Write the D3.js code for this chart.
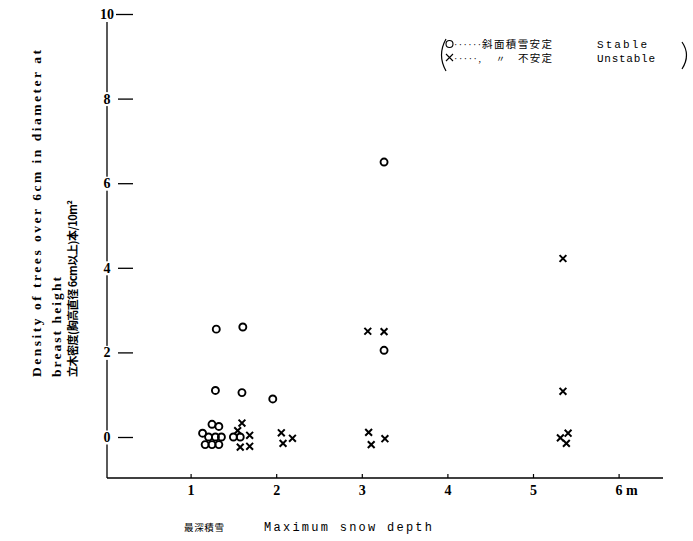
<!DOCTYPE html>
<html>
<head>
<meta charset="utf-8">
<script src="https://cdn.jsdelivr.net/npm/d3@7"></script>
<style>
  body { margin: 0; background: #fff; }
  svg { display: block; }
  .tick text { font-family: "Liberation Serif", "DejaVu Serif", serif; font-weight: bold; }
</style>
</head>
<body>
<svg id="chart" width="693" height="541"></svg>
<script>
// snow depth (m) / tree density (per 10 m2)
const stableDepth   = [1.30, 1.61, 1.29, 1.60, 1.96, 3.26, 3.26, 1.25, 1.33, 1.14, 1.21, 1.29, 1.36, 1.17, 1.25, 1.33, 1.50, 1.58];
const stableDensity = [2.55, 2.60, 1.10, 1.05, 0.90, 6.50, 2.05, 0.30, 0.25, 0.09, 0.00, 0.00, 0.00, -0.18, -0.18, -0.18, 0.00, 0.00];

const unstableDepth   = [1.60, 1.55, 1.69, 1.58, 1.69, 2.06, 2.19, 2.08, 3.07, 3.26, 3.08, 3.27, 3.11, 5.35, 5.35, 5.32, 5.41, 5.39];
const unstableDensity = [0.33, 0.15, 0.04, -0.24, -0.22, 0.10, -0.03, -0.15, 2.50, 2.49, 0.11, -0.04, -0.18, 4.22, 1.08, -0.02, 0.09, -0.15];

const xTicks = [1, 2, 3, 4, 5, 6];
const xTickLabels = ['1', '2', '3', '4', '5', '6 m'];
const yTicks = [0, 2, 4, 6, 8, 10];

const svg = d3.select('#chart');

const x = d3.scaleLinear().domain([0, 6]).range([105, 618.6]);
const y = d3.scaleLinear().domain([0, 10]).range([437, 14]);

const axisX = 107, axisY = 478;

// axis lines
svg.append('line')
    .attr('x1', axisX).attr('x2', axisX)
    .attr('y1', 22).attr('y2', axisY)
    .attr('stroke', '#000').attr('stroke-width', 1.3);
svg.append('line')
    .attr('x1', axisX).attr('x2', 663)
    .attr('y1', axisY).attr('y2', axisY)
    .attr('stroke', '#000').attr('stroke-width', 1.5);

// x axis: small upward ticks, labels below
const gx = svg.append('g')
    .attr('transform', 'translate(0,' + axisY + ')')
    .call(d3.axisBottom(x).tickValues(xTicks)
        .tickFormat((d, i) => xTickLabels[i])
        .tickSizeInner(-4).tickSizeOuter(0).tickPadding(7));
gx.select('.domain').remove();
gx.selectAll('.tick line').attr('stroke-width', 1.2);
gx.selectAll('.tick text').attr('font-size', 14).attr('fill', '#000')
    .attr('text-anchor', 'start').attr('dx', -3.5);

// y axis: labels sit on the axis line, ticks are short dashes to its right
const gy = svg.append('g')
    .attr('transform', 'translate(118,0)')
    .call(d3.axisRight(y).tickValues(yTicks)
        .tickSizeInner(15).tickSizeOuter(0).tickPadding(0));
gy.select('.domain').remove();
gy.selectAll('.tick line').attr('stroke-width', 1.3);
gy.selectAll('.tick').each(function (d) {
    const t = d3.select(this);
    const w = d === 10 ? 17 : 9;
    t.insert('rect', 'text')
        .attr('x', -11 - w / 2).attr('y', -7)
        .attr('width', w).attr('height', 14)
        .attr('fill', '#fff');
});
gy.selectAll('.tick text')
    .attr('x', -11).attr('text-anchor', 'middle')
    .attr('font-size', 14).attr('fill', '#000');
gy.selectAll('.tick').filter(d => d === 10).select('line')
    .attr('x1', -2);

// points
svg.append('g').selectAll('circle')
    .data(stableDepth.map((d, i) => [d, stableDensity[i]]))
    .enter().append('circle')
    .attr('cx', d => x(d[0]))
    .attr('cy', d => y(d[1]))
    .attr('r', 3.5)
    .attr('fill', 'none')
    .attr('stroke', '#000')
    .attr('stroke-width', 1.9);

const s = 3.4;
svg.append('g').selectAll('path')
    .data(unstableDepth.map((d, i) => [d, unstableDensity[i]]))
    .enter().append('path')
    .attr('d', d => {
        const cx = x(d[0]), cy = y(d[1]);
        return 'M' + (cx - s) + ',' + (cy - s) + 'L' + (cx + s) + ',' + (cy + s) +
               'M' + (cx - s) + ',' + (cy + s) + 'L' + (cx + s) + ',' + (cy - s);
    })
    .attr('stroke', '#000')
    .attr('stroke-width', 2)
    .attr('fill', 'none');

// y axis title, three rotated lines
const serif = '"Liberation Serif", "DejaVu Serif", serif';
const cjk = '"Noto Sans CJK JP", "Noto Sans CJK SC", sans-serif';
const yTitle = [
    { text: 'Density of trees over 6cm in diameter at', x: 41, len: 327, font: serif, size: 13.5 },
    { text: 'breast height', x: 61, len: 100, font: serif, size: 13.5 },
    { text: '立木密度(胸高直径 6cm以上)本/10m²', x: 77, len: 177, font: cjk, size: 11 }
];
yTitle.forEach(l => {
    svg.append('text')
        .attr('transform', 'translate(' + l.x + ',377) rotate(-90)')
        .attr('font-family', l.font)
        .attr('font-weight', 'bold')
        .attr('font-size', l.size)
        .attr('textLength', l.len)
        .attr('lengthAdjust', 'spacing')
        .text(l.text);
});

// x axis title
svg.append('text')
    .attr('x', 184).attr('y', 531)
    .attr('font-family', cjk).attr('font-size', 9.5)
    .attr('textLength', 40).attr('lengthAdjust', 'spacing')
    .text('最深積雪');
svg.append('text')
    .attr('x', 264).attr('y', 531)
    .attr('font-family', '"Liberation Mono", monospace').attr('font-size', 12)
    .attr('textLength', 168).attr('lengthAdjust', 'spacing')
    .text('Maximum  snow  depth');

// legend
const lg = svg.append('g');
lg.append('path').attr('d', 'M446,39 Q437,55 446,71')
    .attr('fill', 'none').attr('stroke', '#000').attr('stroke-width', 1.2);
lg.append('path').attr('d', 'M682,42 Q691,55 682,69')
    .attr('fill', 'none').attr('stroke', '#000').attr('stroke-width', 1.2);
lg.append('circle').attr('cx', 449.5).attr('cy', 44).attr('r', 3.5)
    .attr('fill', 'none').attr('stroke', '#000').attr('stroke-width', 1.1);
lg.append('path').attr('d', 'M446,54L453,61M446,61L453,54')
    .attr('stroke', '#000').attr('stroke-width', 1.1);
const legendRows = [
    { y: 48, dots: '······', mark: '', jp: '斜面積雪安定', jpX: 482, en: 'Stable', enLen: 50 },
    { y: 62, dots: '·····,', mark: '〃', jp: '不安定', jpX: 518, en: 'Unstable', enLen: 58 }
];
legendRows.forEach(r => {
    lg.append('text').attr('x', 454).attr('y', r.y)
        .attr('font-family', serif).attr('font-size', 10)
        .attr('textLength', 27).attr('lengthAdjust', 'spacing')
        .text(r.dots);
    if (r.mark) {
        lg.append('text').attr('x', 496).attr('y', r.y)
            .attr('font-family', cjk).attr('font-size', 9).text(r.mark);
    }
    lg.append('text').attr('x', r.jpX).attr('y', r.y)
        .attr('font-family', cjk).attr('font-size', 10.5)
        .attr('textLength', 552 - r.jpX).attr('lengthAdjust', 'spacing')
        .text(r.jp);
    lg.append('text').attr('x', 597).attr('y', r.y)
        .attr('font-family', '"Liberation Mono", monospace').attr('font-size', 11)
        .attr('textLength', r.enLen).attr('lengthAdjust', 'spacing')
        .text(r.en);
});
</script>
</body>
</html>
